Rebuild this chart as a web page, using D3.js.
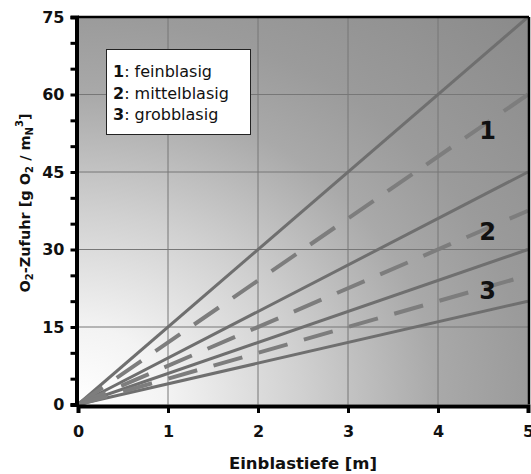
<!DOCTYPE html>
<html><head><meta charset="utf-8">
<script src="https://cdn.jsdelivr.net/npm/d3@7"></script>
<style>body{margin:0;background:#fff}svg{display:block;font-family:"DejaVu Sans",Verdana,sans-serif}</style>
</head><body><svg id="c" width="531" height="474"></svg>
<script>
// Data
const xTicks = [0,1,2,3,4,5];
const yTicks = [0,15,30,45,60,75];
const yMinorTicks = [0,5,10,15,20,25,30,35,40,45,50,55,60,65,70,75];
const solidEnds = [75,45,30,20];   // O2 value at depth 5 m for solid lines
const dashedEnds = [60,37.5,25];   // O2 value at depth 5 m for dashed lines
const bandLabels = ["1","2","3"];
const bandLabelY = [53,33.5,22];
const legendNums = ["1","2","3"];
const legendTexts = [": feinblasig",": mittelblasig",": grobblasig"];

const svg = d3.select("#c");
const L=78, T=17, R=528, B=404.5;
const x = d3.scaleLinear().domain([0,5]).range([L,R]);
const y = d3.scaleLinear().domain([0,75]).range([B,T]);

const defs = svg.append("defs");
const rg = defs.append("radialGradient").attr("id","bg")
  .attr("cx",0).attr("cy",1).attr("r",1.42);
[[0,"#ffffff"],[0.2,"#f3f3f3"],[0.5,"#d0d0d0"],[0.8,"#a9a9a9"],[1.0,"#9b9b9b"],[1.42,"#8a8a8a"]].forEach(s=>{
  rg.append("stop").attr("offset",s[0]/1.42).attr("stop-color",s[1]);
});

svg.append("rect").attr("x",L).attr("y",T).attr("width",R-L).attr("height",B-T).attr("fill","url(#bg)");

// grid
const g = svg.append("g");
g.selectAll(".gx").data(xTicks.slice(1,-1)).join("line")
  .attr("x1",d=>x(d)).attr("x2",d=>x(d)).attr("y1",T).attr("y2",B)
  .attr("stroke","#777").attr("stroke-width",1);
g.selectAll(".gy").data(yTicks.slice(1,-1)).join("line")
  .attr("y1",d=>y(d)).attr("y2",d=>y(d)).attr("x1",L).attr("x2",R)
  .attr("stroke","#777").attr("stroke-width",1);

// lines
const line = d3.line().x(d=>x(d[0])).y(d=>y(d[1]));
svg.selectAll(".sl").data(solidEnds).join("path")
  .attr("d",v=>line([[0,0],[5,v]])).attr("fill","none")
  .attr("stroke","#6f6f6f").attr("stroke-width",3);
svg.selectAll(".dl").data(dashedEnds).join("path")
  .attr("d",v=>line([[0,0],[5,v]])).attr("fill","none")
  .attr("stroke","#7d7d7d").attr("stroke-width",4).attr("stroke-dasharray","30,17");

// band labels
svg.selectAll(".bl").data(bandLabels).join("text")
  .attr("x",x(4.55)).attr("y",(d,i)=>y(bandLabelY[i])).attr("dy","0.36em")
  .attr("text-anchor","middle").attr("font-weight","bold").attr("font-size",24)
  .attr("fill","#111").text(d=>d);

// frame top/right
svg.append("line").attr("x1",L).attr("x2",R+1).attr("y1",T).attr("y2",T).attr("stroke","#000").attr("stroke-width",2.5);
svg.append("line").attr("x1",R+1).attr("x2",R+1).attr("y1",T).attr("y2",B).attr("stroke","#000").attr("stroke-width",2.5);

// axes
const yAxis = d3.axisLeft(y).tickValues(yMinorTicks).tickSize(6).tickFormat(d=>yTicks.includes(d)?d:"");
const ya = svg.append("g").attr("transform",`translate(${L-1.5},0)`).call(yAxis);
ya.select(".domain").attr("stroke","#000").attr("stroke-width",4);
ya.selectAll(".tick line").attr("stroke","#000").attr("stroke-width",3);
ya.selectAll(".tick text").attr("font-size",16).attr("font-weight","bold").attr("fill","#111")
  .attr("font-family","DejaVu Sans").attr("x",-12);

const xAxis = d3.axisBottom(x).tickValues(xTicks).tickSize(7).tickFormat(d3.format("d"));
const xa = svg.append("g").attr("transform",`translate(0,${B+1.5})`).call(xAxis);
xa.select(".domain").attr("stroke","#000").attr("stroke-width",4);
xa.selectAll(".tick line").attr("stroke","#000").attr("stroke-width",3);
xa.selectAll(".tick text").attr("font-size",16).attr("font-weight","bold").attr("fill","#111")
  .attr("font-family","DejaVu Sans").attr("y",20);

// axis titles
svg.append("text").attr("x",(L+R)/2).attr("y",469).attr("text-anchor","middle")
  .attr("font-weight","bold").attr("font-size",16.5).attr("fill","#111").text("Einblastiefe [m]");

const yt = svg.append("text").attr("transform","translate(30,203) rotate(-90)")
  .attr("text-anchor","middle").attr("font-weight","bold").attr("font-size",14.5).attr("fill","#111");
yt.append("tspan").text("O");
yt.append("tspan").attr("font-size",10).attr("dy",3).text("2");
yt.append("tspan").attr("dy",-3).text("-Zufuhr [g O");
yt.append("tspan").attr("font-size",10).attr("dy",3).text("2");
yt.append("tspan").attr("dy",-3).text(" / m");
yt.append("tspan").attr("font-size",10).attr("dy",3).text("N");
yt.append("tspan").attr("font-size",10).attr("dy",-10).text("3");
yt.append("tspan").attr("dy",7).text("]");

// legend
const lg = svg.append("g");
lg.append("rect").attr("x",106.5).attr("y",49.5).attr("width",144).attr("height",85)
  .attr("fill","#fff").attr("stroke","#222").attr("stroke-width",1);
legendNums.forEach((n,i)=>{
  const t = lg.append("text").attr("x",113).attr("y",77+i*21.5).attr("font-size",16).attr("fill","#111");
  t.append("tspan").attr("font-weight","bold").text(n);
  t.append("tspan").text(legendTexts[i]);
});
</script></body></html>
